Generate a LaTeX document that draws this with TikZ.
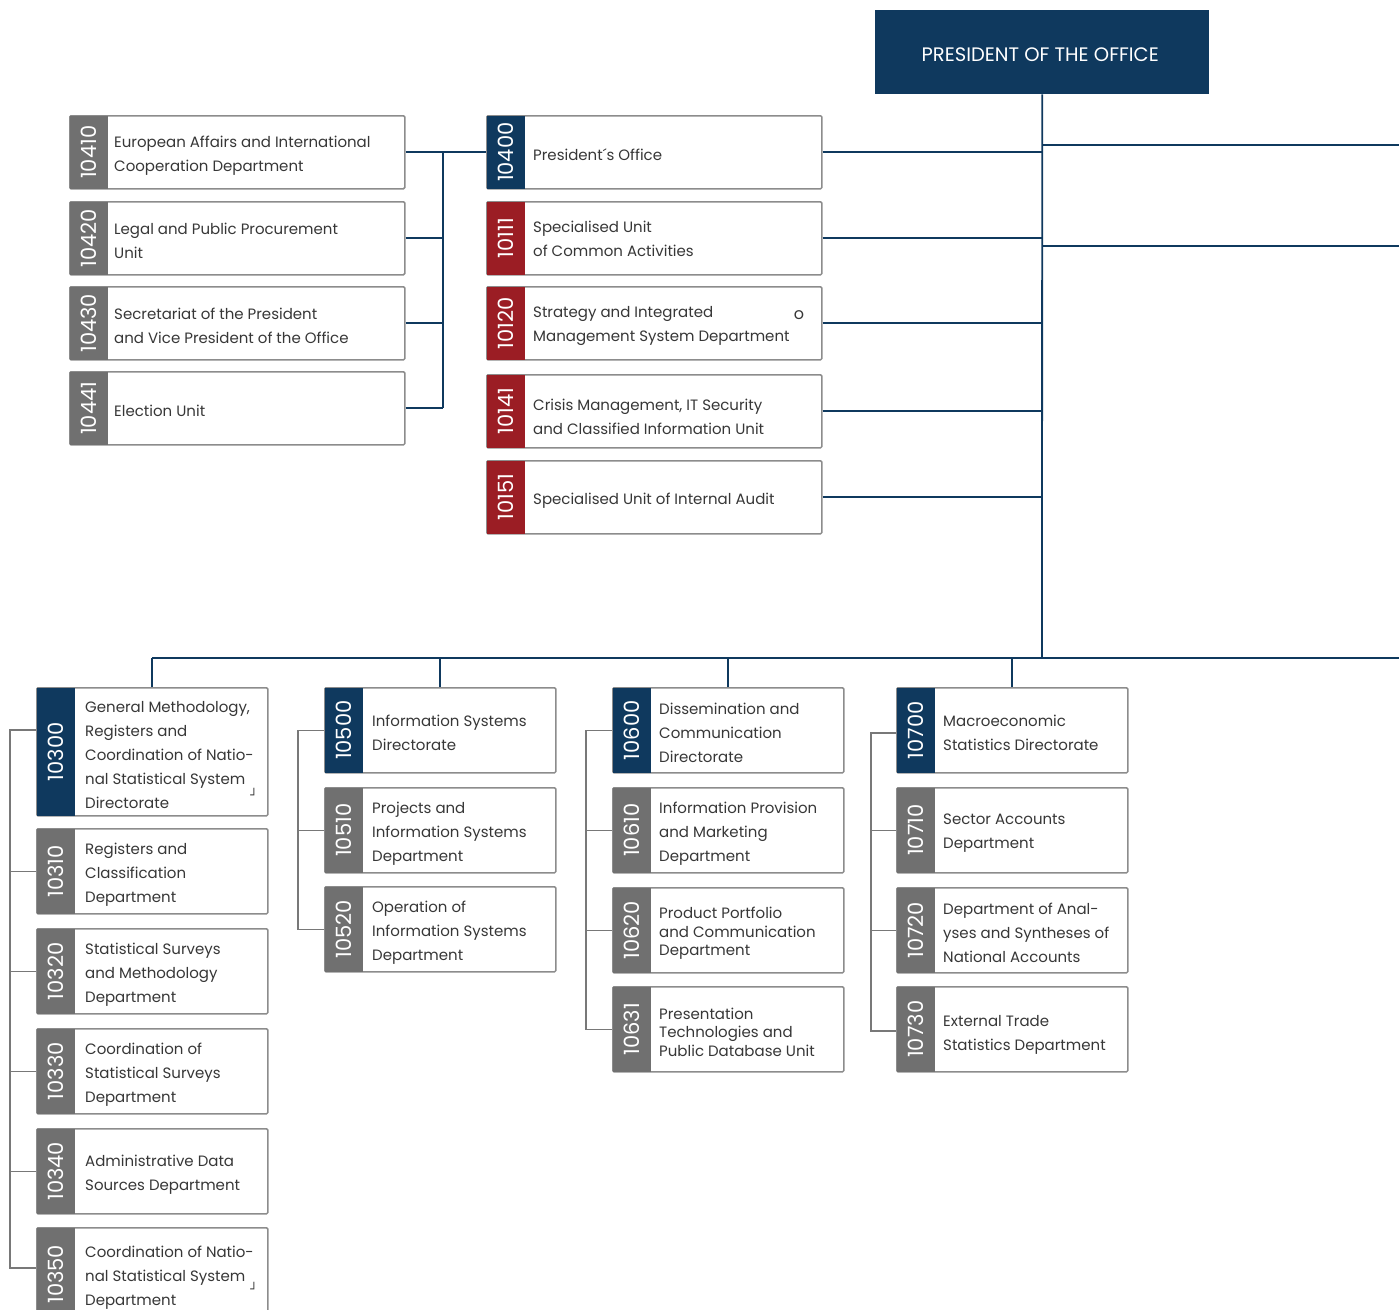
\documentclass[tikz,border=0pt]{standalone}
\usepackage{fontspec}
\setmainfont{Poppins}
\newfontfamily\djv{DejaVu Sans}
\definecolor{navy}{RGB}{15,57,94}
\definecolor{dred}{RGB}{155,29,36}
\definecolor{sgray}{RGB}{112,112,112}
\definecolor{bgray}{RGB}{140,140,140}
\definecolor{cgray}{RGB}{120,120,120}
\definecolor{tcol}{RGB}{55,55,55}
\tikzset{
  orgbox/.style={draw=bgray, line width=1.5pt, rounded corners=1.2pt, fill=white, inner sep=0pt},
  onum/.style={rotate=90, text=white, font=\fontsize{21}{22}\selectfont, inner sep=0pt},
  otxt/.style={anchor=west, align=left, text=tcol, font=\fontsize{15}{24}\selectfont, inner sep=0pt},
  tight/.style={font=\fontsize{15}{18.5}\selectfont},
  nline/.style={draw=navy, line width=1.8pt},
  gline/.style={draw=cgray, line width=1.5pt},
}
\newcommand\orgunit[9][]{%
  \node[orgbox, minimum width=#6, minimum height=#5-#4, anchor=north west] (#2) at (#3,#4) {};
  \fill[#7] ([xshift=0.75pt,yshift=-0.75pt]#2.north west) rectangle ([xshift=39pt,yshift=0.75pt]#2.south west);
  \node[onum] (#2n) at ([xshift=20pt]#2.west) {#8};
  \node[otxt,#1] (#2t) at ([xshift=47pt,yshift=-3pt]#2.west) {#9};
}
\begin{document}
\begin{tikzpicture}[x=1pt,y=-1pt]
\useasboundingbox (0,0) rectangle (1399,1309);
% top box
\node[fill=navy, minimum width=334, minimum height=84, anchor=north west, inner sep=0pt] (pres) at (875,10) {};
\node[text=white, font=\fontsize{19.5}{22}\selectfont, inner sep=0pt] (prest) at ([xshift=-2pt,yshift=-2pt]pres.center) {PRESIDENT OF THE OFFICE};
% coordinates
\coordinate (hub) at (1042,658);
\coordinate (bl) at (152,658);
\coordinate (br) at (1399,658);
\coordinate (r1) at (1399,145);
\coordinate (r2) at (1399,246);
\coordinate (lbus) at (443,152);
% main lines
\draw[nline] (pres.south) -- (hub);
\draw[nline] (pres.south |- r1) -- (r1);
\draw[nline] (pres.south |- r2) -- (r2);
\draw[nline] (bl) -- (br);
% column 2
\orgunit[yshift=1pt]{u10400}{486}{115}{188}{335}{navy}{10400}{President´s Office}
\orgunit[yshift=2pt]{u10111}{486}{201}{274}{335}{dred}{10111}{Specialised Unit\\of Common Activities}
\orgunit{u10120}{486}{286}{359}{335}{dred}{10120}{Strategy and Integrated\\Management System Department}
\orgunit[yshift=-3pt]{u10141}{486}{374}{447}{335}{dred}{10141}{Crisis Management, IT Security\\and Classified Information Unit}
\orgunit{u10151}{486}{460}{533}{335}{dred}{10151}{Specialised Unit of Internal Audit}
\node[text=tcol, font=\fontsize{16}{18}\selectfont, inner sep=0pt] (omark) at (799,315) {o};
% column 1
\orgunit[xshift=-2pt]{u10410}{69}{115}{188}{335}{sgray}{10410}{European Affairs and International\\Cooperation Department}
\orgunit[xshift=-2pt]{u10420}{69}{201}{274}{335}{sgray}{10420}{Legal and Public Procurement\\Unit}
\orgunit[xshift=-2pt]{u10430}{69}{286}{359}{335}{sgray}{10430}{Secretariat of the President\\and Vice President of the Office}
\orgunit[xshift=-2pt]{u10441}{69}{371}{444}{335}{sgray}{10441}{Election Unit}
% connectors to hub
\foreach \u in {u10400,u10111,u10120,u10141,u10151}
  \draw[nline] (\u.east) -- (\u.east -| pres.south);
\draw[nline] (u10410.east) -- (u10400.west);
\foreach \u in {u10420,u10430,u10441}
  \draw[nline] (\u.east) -- (\u.east -| lbus);
\draw[nline] (lbus) -- (u10441.east -| lbus);
% bottom column A
\orgunit[xshift=2pt]{u10300}{36}{687}{815}{231}{navy}{10300}{General Methodology,\\Registers and\\Coordination of Natio-\\nal Statistical System\\Directorate}
\orgunit[xshift=2pt]{u10310}{36}{828}{913}{231}{sgray}{10310}{Registers and\\Classification\\Department}
\orgunit[xshift=2pt]{u10320}{36}{928}{1013}{231}{sgray}{10320}{Statistical Surveys\\and Methodology\\Department}
\orgunit[xshift=2pt]{u10330}{36}{1028}{1113}{231}{sgray}{10330}{Coordination of\\Statistical Surveys\\Department}
\orgunit[xshift=2pt]{u10340}{36}{1128}{1213}{231}{sgray}{10340}{Administrative Data\\Sources Department}
\orgunit[xshift=2pt]{u10350}{36}{1227}{1320}{231}{sgray}{10350}{Coordination of Natio-\\nal Statistical System\\Department}
\node[text=tcol, font=\djv\fontsize{12}{14}\selectfont, inner sep=0pt] (m1) at (254,794) {┘};
\node[text=tcol, font=\djv\fontsize{12}{14}\selectfont, inner sep=0pt] (m2) at (254,1288) {┘};
% column B
\orgunit[xshift=1pt]{u10500}{324}{687}{772}{231}{navy}{10500}{Information Systems\\Directorate}
\orgunit[xshift=1pt]{u10510}{324}{787}{872}{231}{sgray}{10510}{Projects and\\Information Systems\\Department}
\orgunit[xshift=1pt]{u10520}{324}{886}{971}{231}{sgray}{10520}{Operation of\\Information Systems\\Department}
% column C
\orgunit{u10600}{612}{687}{772}{231}{navy}{10600}{Dissemination and\\Communication\\Directorate}
\orgunit{u10610}{612}{787}{872}{231}{sgray}{10610}{Information Provision\\and Marketing\\Department}
\orgunit[tight]{u10620}{612}{887}{972}{231}{sgray}{10620}{Product Portfolio\\and Communication\\Department}
\orgunit[tight]{u10631}{612}{986}{1071}{231}{sgray}{10631}{Presentation\\Technologies and\\Public Database Unit}
% column D
\orgunit{u10700}{896}{687}{772}{231}{navy}{10700}{Macroeconomic\\Statistics Directorate}
\orgunit{u10710}{896}{787}{872}{231}{sgray}{10710}{Sector Accounts\\Department}
\orgunit{u10720}{896}{887}{972}{231}{sgray}{10720}{Department of Anal-\\yses and Syntheses of\\National Accounts}
\orgunit[yshift=-3pt]{u10730}{896}{986}{1071}{231}{sgray}{10730}{External Trade\\Statistics Department}
% drops from bottom bus
\foreach \u in {u10300,u10500,u10600,u10700}
  \draw[nline] (\u.north) -- (\u.north |- bl);
% gray connectors
\coordinate (ga) at (10,730);
\coordinate (gb) at (298,730);
\coordinate (gc) at (586,730);
\coordinate (gd) at (871,733);
\draw[gline] (ga -| u10300.west) -- (ga) -- (ga |- 0,1268) -- (u10350.west |- 0,1268);
\foreach \u in {u10310,u10320,u10330,u10340}
  \draw[gline] (\u.west) -- (\u.west -| ga);
\draw[gline] (u10500.west) -- (u10500.west -| gb) |- (u10520.west);
\draw[gline] (u10510.west) -- (u10510.west -| gb);
\draw[gline] (u10600.west) -- (u10600.west -| gc) |- (u10631.west);
\foreach \u in {u10610,u10620}
  \draw[gline] (\u.west) -- (\u.west -| gc);
\draw[gline] (gd -| u10700.west) -- (gd) -- (gd |- 0,1031) -- (u10730.west |- 0,1031);
\foreach \u in {u10710,u10720}
  \draw[gline] (\u.west) -- (\u.west -| gd);
\end{tikzpicture}
\end{document}
